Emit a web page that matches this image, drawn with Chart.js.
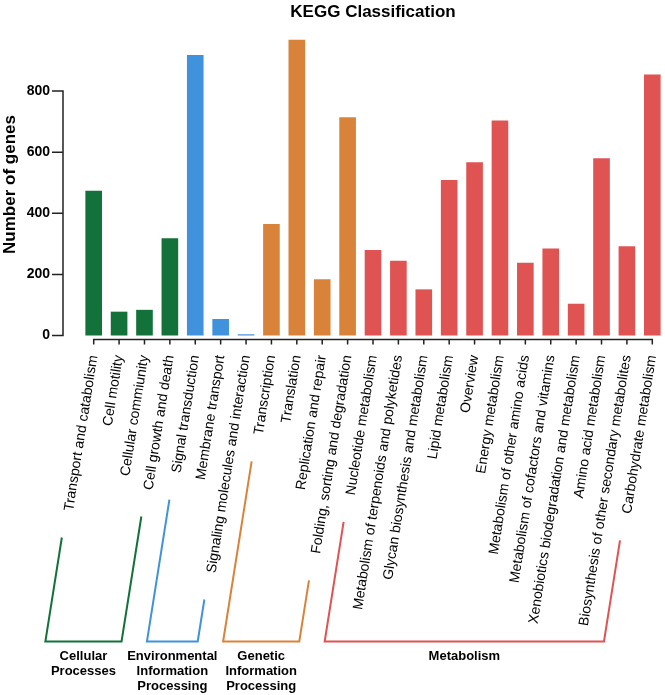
<!DOCTYPE html>
<html><head><meta charset="utf-8">
<script src="https://cdn.jsdelivr.net/npm/chart.js@4.4.1/dist/chart.umd.min.js"></script>
<style>html,body{margin:0;padding:0;background:#fff;overflow:hidden}#wrap{width:665px;height:695px}</style>
</head><body><div id="wrap"><canvas id="c" width="665" height="695"></canvas></div>
<script>
const categories = [
  "Transport and catabolism","Cell motility","Cellular commiunity","Cell growth and death",
  "Signal transduction","Membrane transport","Signaling molecules and interaction",
  "Transcription","Translation","Replication and repair","Folding, sorting and degradation",
  "Nucleotide metabolism","Metabolism of terpenoids and polyketides","Glycan biosynthesis and metabolism",
  "Lipid metabolism","Overview","Energy metabolism","Metabolism of other amino acids",
  "Metabolism of cofactors and vitamins","Xenobiotics biodegradation and metabolism",
  "Amino acid metabolism","Biosynthesis of other secondary metabolites","Carbohydrate metabolism"
];
const geneCounts = [474, 78, 84, 318, 918, 54, 4, 365, 968, 184, 714,
  280, 245, 151, 509, 567, 704, 238, 285, 104, 580, 292, 854];
const groupNames = [["Cellular","Processes"],["Environmental","Information","Processing"],["Genetic","Information","Processing"],["Metabolism"]];
const groupSizes = [4, 3, 4, 12];
const groupColors = ["#127239", "#4192dc", "#d9833a", "#e05353"];
const yTicks = [0, 200, 400, 600, 800];

const FONT = "'Liberation Sans', Arial, Helvetica, sans-serif";
const ROT = 81;
const barColors = [];
groupSizes.forEach((n, g) => { for (let i = 0; i < n; i++) barColors.push(groupColors[g]); });

const prismAxes = {
  id: 'prismAxes',
  afterLayout(chart) { chart.scales.y.right = chart.chartArea.left - 18; },
  afterDraw(chart) {
    const {ctx, chartArea} = chart;
    const x = chart.scales.x, y = chart.scales.y;
    ctx.save();
    ctx.strokeStyle = '#222'; ctx.lineWidth = 1.5; ctx.lineCap = 'butt';
    const yx = y.right;
    ctx.beginPath();
    ctx.moveTo(yx, y.getPixelForValue(yTicks[yTicks.length - 1]));
    ctx.lineTo(yx, y.getPixelForValue(0));
    yTicks.forEach(v => { const p = y.getPixelForValue(v); ctx.moveTo(yx - 11, p); ctx.lineTo(yx + 0.75, p); });
    ctx.stroke();
    const xb = chartArea.bottom + 0.5;
    ctx.beginPath();
    ctx.moveTo(x.getPixelForTick(0) - 0.75, xb);
    ctx.lineTo(x.getPixelForTick(categories.length - 1) + 0.75, xb);
    categories.forEach((c, i) => { const p = x.getPixelForTick(i); ctx.moveTo(p, xb); ctx.lineTo(p, xb + 5); });
    ctx.stroke();

    // group brackets
    const th = ROT * Math.PI / 180, cs = Math.cos(th), sn = Math.sin(th);
    const dir = {x: -cs, y: sn};
    ctx.font = '14px ' + FONT;
    const items = x.getLabelItems();
    const bracketY = 641.5, gap = 27;
    const pos = (i) => {
      const it = items[i];
      const [tx, ty] = it.options.translation;
      const bl = it.options.textBaseline;
      let c = it.textOffset || 0;
      if (bl === 'top') c += 7; else if (bl === 'bottom') c -= 7;
      const ax = tx + c * sn - 3, ay = ty + c * cs;
      const w = ctx.measureText(categories[i]).width;
      const sTop = w + gap;
      const sBot = (bracketY - ay) / dir.y;
      return {top: {x: ax + dir.x * sTop, y: ay + dir.y * sTop}, bot: {x: ax + dir.x * sBot, y: bracketY}};
    };
    let start = 0;
    groupSizes.forEach((n, g) => {
      const a = pos(start), b = pos(start + n - 1);
      start += n;
      ctx.strokeStyle = groupColors[g]; ctx.lineWidth = 2; ctx.lineJoin = 'miter';
      ctx.beginPath();
      ctx.moveTo(a.top.x, a.top.y); ctx.lineTo(a.bot.x, a.bot.y);
      ctx.lineTo(b.bot.x, b.bot.y); ctx.lineTo(b.top.x, b.top.y);
      ctx.stroke();
      const cx = (a.bot.x + b.bot.x) / 2;
      ctx.fillStyle = '#000'; ctx.font = 'bold 13px ' + FONT;
      ctx.textAlign = 'center'; ctx.textBaseline = 'middle';
      groupNames[g].forEach((t, k) => ctx.fillText(t, cx, bracketY + 15 + k * 15));
      ctx.font = '14px ' + FONT;
    });
    ctx.restore();
  }
};

new Chart(document.getElementById('c'), {
  type: 'bar',
  data: {
    labels: categories,
    datasets: [{ data: geneCounts, backgroundColor: barColors, borderWidth: 0,
      categoryPercentage: 1, barPercentage: 0.655 }]
  },
  options: {
    responsive: false, animation: false,
    layout: { padding: { left: 0, right: -3, top: 0, bottom: 0 } },
    plugins: {
      legend: { display: false }, tooltip: { enabled: false },
      title: { display: true, text: 'KEGG Classification', color: '#000', fullSize: false,
        font: { family: FONT, size: 17, weight: 'bold' }, padding: { top: 2, bottom: 7.6 } }
    },
    scales: {
      x: {
        offset: true,
        grid: { display: false, drawTicks: false, tickLength: 0, offset: false },
        border: { display: false },
        ticks: { autoSkip: false, minRotation: ROT, maxRotation: ROT, padding: 15, color: '#000',
          font: { family: FONT, size: 14 } },
        afterFit(s) { s.height = 356; s.paddingLeft = 0; s.paddingRight = 0; }
      },
      y: {
        min: -11.45, max: 1000,
        afterBuildTicks(s) { s.ticks = yTicks.map(v => ({ value: v })); },
        grid: { display: false, drawTicks: false, tickLength: 0 },
        border: { display: false },
        ticks: { padding: 13, color: '#000', font: { family: FONT, size: 14, weight: 'bold' } },
        title: { display: true, text: 'Number of genes', color: '#000', padding: { top: 0, bottom: 0 },
          font: { family: FONT, size: 17, weight: 'bold' } },
        afterFit(s) { s.width = 81; s.paddingTop = 0; s.paddingBottom = 0; }
      }
    }
  },
  plugins: [prismAxes]
});
</script></body></html>
